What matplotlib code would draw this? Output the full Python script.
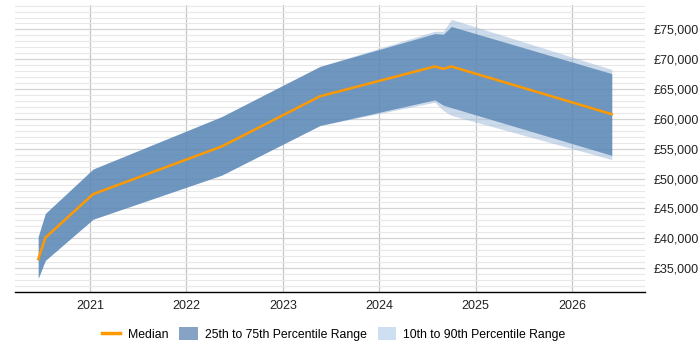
import matplotlib
matplotlib.use("Agg")
import matplotlib.pyplot as plt
import matplotlib.dates as mdates
from matplotlib.patches import Patch
from matplotlib.lines import Line2D
from matplotlib.ticker import MultipleLocator, FuncFormatter
import pandas as pd

dates = pd.to_datetime(["2020-06-18", "2020-07-15", "2021-01-12", "2022-05-15",
                        "2023-05-22", "2024-07-30", "2024-09-01", "2024-10-01",
                        "2026-06-01"])
median = [36500, 40100, 47400, 55400, 63800, 68800, 68400, 68800, 60800]
p25 = [33300, 36300, 43200, 50600, 58900, 63200, 62300, 61900, 53900]
p75 = [40300, 44150, 51600, 60400, 68800, 74300, 74200, 75500, 67600]
p10 = [33300, 36300, 43200, 50600, 58900, 62800, 61400, 60600, 53200]
p90 = [40300, 44150, 51600, 60400, 68800, 74700, 74700, 76700, 68300]
year_ticks = ["2021", "2022", "2023", "2024", "2025", "2026"]

plt.rcParams['font.family'] = ['Liberation Sans', 'DejaVu Sans']

fig = plt.figure(figsize=(7, 3.5), dpi=100)
ax = fig.add_axes([15/700, 1-292/350, 630/700, 287/350])

ax.fill_between(dates, p10, p90, color=(155/255, 185/255, 218/255), alpha=0.5, lw=0, zorder=2)
ax.fill_between(dates, p25, p75, color=(79/255, 127/255, 176/255), alpha=0.75, lw=0, zorder=3)
ax.plot(dates, median, color="#ff9900", lw=1.8, zorder=4)

ax.set_xlim(pd.Timestamp("2020-03-22"), pd.Timestamp("2026-10-05"))
ax.set_ylim(31000, 79100)

ax.set_xticks(pd.to_datetime([y + "-01-01" for y in year_ticks]))
ax.xaxis.set_major_formatter(mdates.DateFormatter("%Y"))
ax.yaxis.set_major_locator(MultipleLocator(5000))
ax.yaxis.set_minor_locator(MultipleLocator(1000))
ax.yaxis.set_major_formatter(FuncFormatter(lambda v, p: f"£{int(v):,}"))
ax.yaxis.tick_right()

ax.set_axisbelow(True)
ax.grid(axis="y", which="major", color="#d4d4d4", lw=0.9)
ax.grid(axis="y", which="minor", color="#e8e8e8", lw=0.8)
ax.grid(axis="x", which="major", color="#c6c6c6", lw=0.9)

for s in ["top", "left", "right"]:
    ax.spines[s].set_visible(False)
ax.spines["bottom"].set_color("black")
ax.spines["bottom"].set_linewidth(1.0)

ax.tick_params(axis="x", length=0, labelsize=9, pad=6)
ax.tick_params(axis="y", which="both", length=0, labelsize=9, pad=6)
for lbl in ax.get_xticklabels() + ax.get_yticklabels():
    lbl.set_color("#222222")

handles = [Line2D([0], [0], color="#ff9900", lw=2.5),
           Patch(facecolor="#86a3c6", edgecolor="none"),
           Patch(facecolor="#cddff0", edgecolor="none")]
labels = ["Median", "25th to 75th Percentile Range", "10th to 90th Percentile Range"]
fig.legend(handles, labels, loc="center", bbox_to_anchor=(0.477, 1-334/350), ncol=3,
           frameon=False, fontsize=8.8, handlelength=1.5, handleheight=1.3,
           columnspacing=0.9, handletextpad=0.6)

fig.savefig("out.png", dpi=100)
